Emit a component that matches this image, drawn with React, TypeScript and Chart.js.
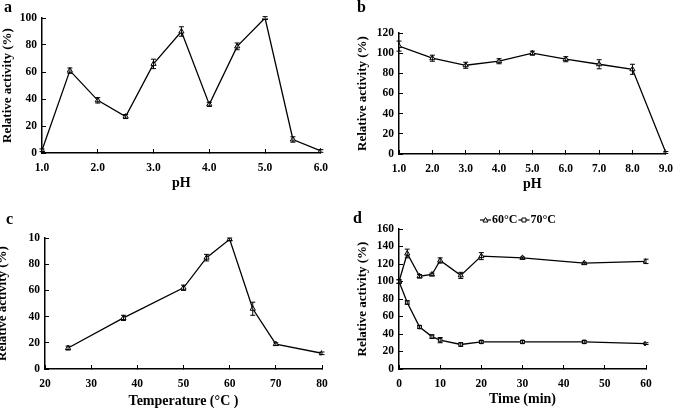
import React, { useEffect, useRef } from "react";
import { Chart, registerables } from "chart.js";

Chart.register(...registerables);

// Panel a: pH optimum
const phA = [1.0, 1.5, 2.0, 2.5, 3.0, 3.5, 4.0, 4.5, 5.0, 5.5, 6.0];
const actA = [2, 61, 39, 27, 66, 90, 36, 79, 100, 10, 1.5];
const errA = [1, 2, 2, 1.5, 3.5, 3.5, 1.5, 2.5, 1, 2, 1];

// Panel b: pH stability
const phB = [1, 2, 3, 4, 5, 6, 7, 8, 9];
const actB = [107, 95, 88, 92, 100, 94, 89, 84, 1.5];
const errB = [5, 3, 3, 2.5, 2, 2.5, 4.5, 5, 1];

// Panel c: temperature optimum
const tempC = [25, 37, 50, 55, 60, 65, 70, 80];
const actC = [16, 39, 62, 85, 99, 46, 19, 12];
const errC = [1.5, 2, 2, 2.5, 1, 5, 1, 1];

// Panel d: thermostability
const timeD = [0, 2, 5, 8, 10, 15, 20, 30, 45, 60];
const act60 = [100, 132, 106, 108, 124, 107, 129, 127, 121, 123];
const err60 = [2, 5, 2, 1.5, 3, 3.5, 4, 1, 1, 2.5];
const act70 = [100, 76, 48, 37, 33, 28, 31, 31, 31, 29];
const err70 = [2, 2, 1.5, 2, 3, 2, 1.5, 1.5, 1.5, 1];
const legendLabels = ["60°C", "70°C"];

const FONT = "'Liberation Serif', 'Times New Roman', serif";

const errorBarPlugin = {
  id: "errorBars",
  afterDatasetsDraw(chart: any) {
    const ctx = chart.ctx;
    chart.data.datasets.forEach((ds: any, i: number) => {
      const errs: number[] = ds.errors;
      if (!errs) return;
      const meta = chart.getDatasetMeta(i);
      const yScale = chart.scales[meta.yAxisID];
      ctx.save();
      ctx.strokeStyle = "#000";
      ctx.lineWidth = 1;
      meta.data.forEach((pt: any, j: number) => {
        const v = ds.data[j].y;
        const e = errs[j];
        const yt = yScale.getPixelForValue(v + e);
        const yb = yScale.getPixelForValue(v - e);
        ctx.beginPath();
        ctx.moveTo(pt.x, yt);
        ctx.lineTo(pt.x, yb);
        ctx.moveTo(pt.x - 2.5, yt);
        ctx.lineTo(pt.x + 2.5, yt);
        ctx.moveTo(pt.x - 2.5, yb);
        ctx.lineTo(pt.x + 2.5, yb);
        ctx.stroke();
      });
      ctx.restore();
    });
  },
};

const legendPlugin = {
  id: "customLegend",
  afterDraw(chart: any) {
    const lg = chart.options.plugins.customLegend;
    if (!lg || !lg.display) return;
    const ctx = chart.ctx;
    ctx.save();
    ctx.font = `bold 12px ${FONT}`;
    ctx.textBaseline = "middle";
    ctx.fillStyle = "#000";
    ctx.strokeStyle = "#000";
    let x = lg.x;
    const y = lg.y;
    chart.data.datasets.forEach((ds: any) => {
      ctx.lineWidth = 1.2;
      ctx.beginPath();
      ctx.moveTo(x, y);
      ctx.lineTo(x + 11, y);
      ctx.stroke();
      const cx = x + 5.5;
      ctx.lineWidth = 1;
      ctx.fillStyle = "#fff";
      ctx.beginPath();
      if (ds.pointStyle === "rect") {
        ctx.rect(cx - 2, y - 2, 4, 4);
      } else {
        ctx.moveTo(cx, y - 2.5);
        ctx.lineTo(cx + 2.5, y + 2);
        ctx.lineTo(cx - 2.5, y + 2);
        ctx.closePath();
      }
      ctx.fill();
      ctx.stroke();
      ctx.fillStyle = "#000";
      ctx.fillText(ds.label, x + 12, y);
      x += 12 + ctx.measureText(ds.label).width + 1;
    });
    ctx.restore();
  },
};

type Panel = {
  left: number;
  top: number;
  width: number;
  height: number;
  pad: { left: number; top: number; right: number; bottom: number };
  yWidth: number;
  xHeight: number;
  xMin: number;
  xMax: number;
  xStep: number;
  yMax: number;
  xFmt: (v: number) => string;
  yFmt: (v: number) => string;
  xTitle: string;
  xTitlePad: number;
  yTitlePad: number;
  datasets: any[];
  legend?: { x: number; y: number };
};

function makeDs(xs: number[], ys: number[], errs: number[], style: string, label: string) {
  return {
    label,
    data: xs.map((x, i) => ({ x, y: ys[i] })),
    errors: errs,
    borderColor: "#000",
    borderWidth: 1.3,
    pointStyle: style,
    pointRadius: style === "rect" ? 2.5 : 3,
    pointBackgroundColor: "#fff",
    pointBorderColor: "#000",
    pointBorderWidth: 1,
    showLine: true,
    fill: false,
    tension: 0,
  };
}

const panels: Panel[] = [
  {
    left: 0, top: 0, width: 340, height: 200,
    pad: { left: 0, top: 18, right: 18, bottom: 0 },
    yWidth: 42, xHeight: 47,
    xMin: 1, xMax: 6, xStep: 1, yMax: 100,
    xFmt: (v) => v.toFixed(1), yFmt: (v) => String(v),
    xTitle: "pH", xTitlePad: 8, yTitlePad: 0,
    datasets: [makeDs(phA, actA, errA, "triangle", "a")],
  },
  {
    left: 340, top: 0, width: 345, height: 200,
    pad: { left: 0, top: 33, right: 9, bottom: 0 },
    yWidth: 59, xHeight: 46,
    xMin: 1, xMax: 9, xStep: 1, yMax: 120,
    xFmt: (v) => v.toFixed(1), yFmt: (v) => String(v),
    xTitle: "pH", xTitlePad: 7, yTitlePad: 15,
    datasets: [makeDs(phB, actB, errB, "triangle", "b")],
  },
  {
    left: 0, top: 200, width: 340, height: 209,
    pad: { left: 0, top: 38, right: 18, bottom: 0 },
    yWidth: 45, xHeight: 40,
    xMin: 20, xMax: 80, xStep: 10, yMax: 100,
    xFmt: (v) => String(v), yFmt: (v) => (v === 100 ? "10" : String(v)),
    xTitle: "Temperature (°C )", xTitlePad: -1, yTitlePad: -5,
    datasets: [makeDs(tempC, actC, errC, "triangle", "c")],
  },
  {
    left: 340, top: 200, width: 345, height: 209,
    pad: { left: 0, top: 29, right: 39, bottom: 0 },
    yWidth: 59, xHeight: 40,
    xMin: 0, xMax: 60, xStep: 10, yMax: 160,
    xFmt: (v) => String(v), yFmt: (v) => String(v),
    xTitle: "Time (min)", xTitlePad: 1, yTitlePad: 15,
    datasets: [
      makeDs(timeD, act60, err60, "triangle", legendLabels[0]),
      makeDs(timeD, act70, err70, "rect", legendLabels[1]),
    ],
    legend: { x: 140, y: 20 },
  },
];

const letters = [
  { t: "a", x: 4, y: -3 },
  { t: "b", x: 357, y: -3 },
  { t: "c", x: 6, y: 209 },
  { t: "d", x: 353, y: 208 },
];

function PanelChart({ p }: { p: Panel }) {
  const ref = useRef<HTMLCanvasElement | null>(null);
  useEffect(() => {
    if (!ref.current) return;
    const tickFont = { family: FONT, size: 11.5, weight: "bold" as const };
    const chart = new Chart(ref.current, {
      type: "scatter",
      data: { datasets: p.datasets },
      plugins: [errorBarPlugin, legendPlugin],
      options: {
        responsive: false,
        animation: false,
        layout: { padding: p.pad },
        plugins: {
          legend: { display: false },
          tooltip: { enabled: false },
          customLegend: p.legend ? { display: true, x: p.legend.x, y: p.legend.y } : { display: false },
        } as any,
        scales: {
          x: {
            type: "linear",
            min: p.xMin,
            max: p.xMax,
            afterFit: (s: any) => { s.height = p.xHeight; },
            ticks: {
              stepSize: p.xStep,
              color: "#000",
              font: tickFont,
              padding: 12,
              maxRotation: 0,
              autoSkip: false,
              callback: (v: any) => p.xFmt(Number(v)),
            },
            grid: { drawOnChartArea: false, drawTicks: true, tickLength: -4, color: "#000", lineWidth: 1 },
            border: { display: true, color: "#000", width: 1.5 },
            title: {
              display: true,
              text: p.xTitle,
              color: "#000",
              font: { family: FONT, size: 14, weight: "bold" },
              padding: { top: 0, bottom: p.xTitlePad },
            },
          },
          y: {
            type: "linear",
            min: 0,
            max: p.yMax,
            afterFit: (s: any) => { s.width = p.yWidth; },
            ticks: {
              stepSize: 20,
              color: "#000",
              font: tickFont,
              padding: 9,
              callback: (v: any) => p.yFmt(Number(v)),
            },
            grid: { drawOnChartArea: false, drawTicks: true, tickLength: -4, color: "#000", lineWidth: 1 },
            border: { display: true, color: "#000", width: 1.5 },
            title: {
              display: true,
              text: "Relative activity (%)",
              color: "#000",
              font: { family: FONT, size: 13, weight: "bold" },
              padding: { top: p.yTitlePad, bottom: 0 },
            },
          },
        },
      } as any,
    });
    return () => chart.destroy();
  }, [p]);
  return (
    <canvas
      ref={ref}
      width={p.width}
      height={p.height}
      style={{ position: "absolute", left: p.left, top: p.top, width: p.width, height: p.height }}
    />
  );
}

export default function App() {
  return (
    <div style={{ position: "absolute", left: 0, top: 0, width: 685, height: 409, background: "#fff", overflow: "hidden" }}>
      {panels.map((p, i) => (
        <PanelChart key={i} p={p} />
      ))}
      {letters.map((l) => (
        <div
          key={l.t}
          style={{ position: "absolute", left: l.x, top: l.y, fontFamily: FONT, fontWeight: "bold", fontSize: 16, lineHeight: "20px", color: "#000" }}
        >
          {l.t}
        </div>
      ))}
    </div>
  );
}
